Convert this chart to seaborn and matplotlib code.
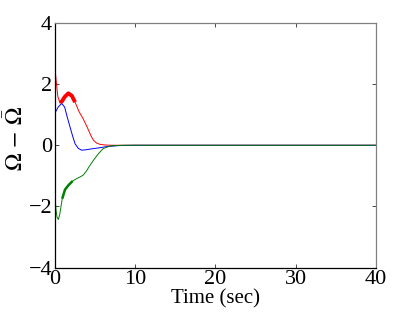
import matplotlib
matplotlib.use("Agg")
import matplotlib.pyplot as plt
import seaborn as sns
import pandas as pd

# values
red_t = [0.0, 0.15, 0.35, 0.62, 0.9, 1.2, 1.66, 2.1, 2.6, 3.0, 3.5, 4.0, 4.5, 4.8, 5.2, 5.6, 6.2, 7.0, 8.0, 10.0, 20.0, 30.0, 40.0]
red_y = [2.52, 2.1, 1.6, 1.38, 1.45, 1.58, 1.70, 1.62, 1.35, 1.1, 0.87, 0.6, 0.3, 0.16, 0.07, 0.03, 0.01, 0.0, 0.0, 0.0, 0.0, 0.0, 0.0]
red_band_t = [0.65, 0.9, 1.2, 1.66, 2.1, 2.5]
red_band_y = [1.39, 1.45, 1.58, 1.70, 1.62, 1.41]

blue_t = [0.0, 0.4, 0.83, 1.2, 1.5, 1.87, 2.2, 2.5, 2.9, 3.3, 3.8, 4.5, 5.6, 6.5, 8.0, 10.0, 20.0, 30.0, 40.0]
blue_y = [1.06, 1.25, 1.37, 1.25, 0.95, 0.6, 0.3, 0.05, -0.1, -0.16, -0.15, -0.12, -0.08, -0.04, -0.01, 0.0, 0.0, 0.0, 0.0]

green_t = [0.0, 0.12, 0.25, 0.42, 0.6, 0.9, 1.25, 1.7, 2.2, 2.7, 3.1, 3.5, 3.9, 4.3, 4.8, 5.4, 6.0, 6.8, 7.5, 8.5, 10.0, 20.0, 30.0, 40.0]
green_y = [-1.6, -2.1, -2.35, -2.43, -2.25, -1.75, -1.45, -1.3, -1.17, -1.09, -1.04, -0.98, -0.85, -0.68, -0.49, -0.28, -0.11, -0.03, -0.01, 0.0, 0.0, 0.0, 0.0, 0.0]
green_band_t = [0.9, 1.25, 1.7, 2.2]
green_band_y = [-1.75, -1.45, -1.3, -1.17]

plt.rcParams['font.family'] = ['Liberation Serif', 'DejaVu Serif']
plt.rcParams['mathtext.fontset'] = 'stix'

fig = plt.figure(figsize=(4.15, 3.12), dpi=100)
ax = fig.add_axes([0.1325, 0.1426, 0.7735, 0.7836])

df = pd.concat([
    pd.DataFrame({'t': red_t, 'y': red_y, 's': 'red'}),
    pd.DataFrame({'t': blue_t, 'y': blue_y, 's': 'blue'}),
    pd.DataFrame({'t': green_t, 'y': green_y, 's': 'green'}),
], ignore_index=True)

sns.lineplot(data=df, x='t', y='y', hue='s', palette={'red': '#ff0000', 'blue': '#0000ff', 'green': '#008000'},
             linewidth=0.7, legend=False, ax=ax, sort=False, estimator=None)
sns.lineplot(x=red_band_t, y=red_band_y, color='#ff0000', linewidth=2.8, ax=ax, sort=False, estimator=None,
             solid_capstyle='butt', solid_joinstyle='round')
sns.lineplot(x=green_band_t, y=green_band_y, color='#008000', linewidth=1.8, ax=ax, sort=False, estimator=None,
             solid_capstyle='butt', solid_joinstyle='round')

ax.set_xlim(0, 40)
ax.set_ylim(-4, 4)
ax.set_xticks([0, 10, 20, 30, 40])
ax.set_yticks([-4, -2, 0, 2, 4])
ax.set_yticklabels(['\u22124', '\u22122', '0', '2', '4'])
ax.tick_params(direction='in', length=3, width=0.5, labelsize=16, top=True, right=True, pad=2)
for side in ['left', 'bottom']:
    ax.spines[side].set_color('black')
    ax.spines[side].set_linewidth(0.9)
for side in ['top', 'right']:
    ax.spines[side].set_color('#808080')
    ax.spines[side].set_linewidth(0.9)

ax.set_xlabel('Time (sec)', fontsize=15, labelpad=0)
ax.set_ylabel(r'$\Omega\,-\,\bar{\Omega}$', fontsize=17)
ax.yaxis.set_label_coords(-0.085, 0.53)

fig.savefig('out.png', dpi=100)
plt.close()
